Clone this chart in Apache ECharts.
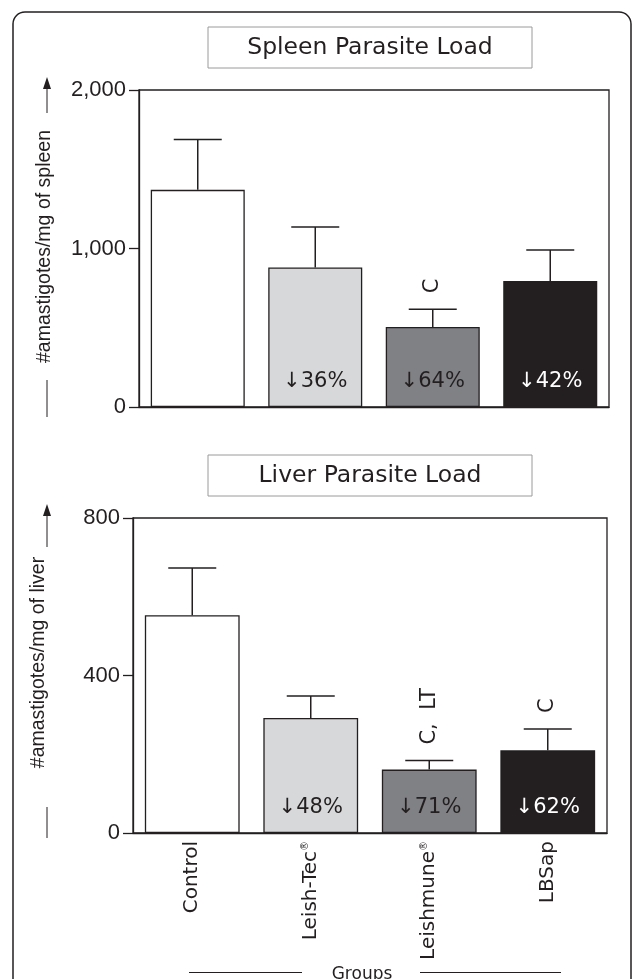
<!DOCTYPE html>
<html><head><meta charset="utf-8">
<script src="https://cdn.jsdelivr.net/npm/echarts@6/dist/echarts.min.js"></script>
<style>html,body{margin:0;padding:0;background:#fff}#c{width:633px;height:979px}</style>
</head><body><div id="c"></div>
<script>
// ---- data ----
const categories = ['Control', 'Leish-Tec', 'Leishmune', 'LBSap'];
const registered = [false, true, true, false];
const barColors = ['#ffffff', '#d7d8da', '#808184', '#231f20'];
const pctColors = ['#231f20', '#231f20', '#231f20', '#ffffff'];

const spleenMean = [1370, 880, 505, 795];
const spleenErr = [318, 255, 112, 195];
const spleenPct = ['', '↓36%', '↓64%', '↓42%'];
const spleenSig = ['', '', 'C', ''];
const spleenTicks = { min: 0, max: 2000, interval: 1000 };

const liverMean = [553, 292, 161, 210];
const liverErr = [120, 56, 23, 54];
const liverPct = ['', '↓48%', '↓71%', '↓62%'];
const liverSig = ['', '', 'C,  LT', 'C'];
const liverTicks = { min: 0, max: 800, interval: 400 };

// ---- chart ----
const INK = '#231f20';
const SANS = 'DejaVu Sans';
const ARIAL = 'Liberation Sans';
const chart = echarts.init(document.getElementById('c'), null, { renderer: 'canvas' });

function errRender(sig) {
  return function (params, api) {
    const i = api.value(0);
    const base = api.coord([i, api.value(1)]);
    const top = api.coord([i, api.value(2)]);
    const half = 24;
    const st = { stroke: INK, lineWidth: 1.5 };
    const children = [
      { type: 'line', shape: { x1: base[0], y1: base[1], x2: top[0], y2: top[1] }, style: st },
      { type: 'line', shape: { x1: top[0] - half, y1: top[1], x2: top[0] + half, y2: top[1] }, style: st }
    ];
    if (sig[i]) {
      children.push({
        type: 'text', x: top[0], y: top[1] - 16, rotation: Math.PI / 2,
        style: { text: sig[i], align: 'left', verticalAlign: 'middle', fontFamily: SANS, fontSize: 21, fill: INK }
      });
    }
    return { type: 'group', children };
  };
}

function barData(mean, pct) {
  return mean.map((v, i) => ({
    value: v,
    itemStyle: { color: barColors[i], borderColor: INK, borderWidth: 1.3 },
    label: { show: !!pct[i], formatter: pct[i], color: pctColors[i] }
  }));
}

function yAx(gi, t, name, fmt, pad) {
  return {
    type: 'value', gridIndex: gi, min: t.min, max: t.max, interval: t.interval,
    axisLine: { show: true, lineStyle: { color: INK, width: 1.3 } },
    axisTick: { show: true, length: 10, lineStyle: { color: INK, width: 1.3 } },
    axisLabel: { margin: 13, color: INK, fontFamily: ARIAL, fontSize: 22, formatter: fmt },
    splitLine: { show: false },
    name: name, nameLocation: 'middle', nameRotate: 90, nameGap: 84,
    nameTextStyle: { color: INK, fontFamily: ARIAL, fontSize: 19.5, padding: pad }
  };
}

const option = {
  backgroundColor: '#ffffff',
  animation: false,
  grid: [
    { left: 139, right: 24, top: 90, height: 317, show: true, borderColor: INK, borderWidth: 1.3, backgroundColor: 'transparent' },
    { left: 133, right: 26, top: 518, height: 315, show: true, borderColor: INK, borderWidth: 1.3, backgroundColor: 'transparent' }
  ],
  xAxis: [
    { type: 'category', gridIndex: 0, data: categories, axisLabel: { show: false }, axisTick: { show: false },
      axisLine: { lineStyle: { color: INK, width: 1.3 } } },
    { type: 'category', gridIndex: 1, data: categories, axisTick: { show: false },
      axisLine: { lineStyle: { color: INK, width: 1.3 } },
      axisLabel: {
        rotate: 90, margin: 8, interval: 0, color: INK,
        formatter: (v, i) => registered[i] ? '{n|' + v + '}{r|®}' : '{n|' + v + '}',
        rich: {
          n: { fontFamily: SANS, fontSize: 20, color: INK },
          r: { fontFamily: SANS, fontSize: 10, color: INK, verticalAlign: 'top' }
        }
      } }
  ],
  yAxis: [
    yAx(0, spleenTicks, '#amastigotes/mg of spleen', v => v.toLocaleString('en-US'), [0, 0, 0, 4]),
    yAx(1, liverTicks, '#amastigotes/mg of liver', v => String(v), [0, 0, 0, 26])
  ],
  series: [
    { type: 'bar', xAxisIndex: 0, yAxisIndex: 0, barWidth: '80%', data: barData(spleenMean, spleenPct),
      label: { position: 'insideBottom', distance: 15, fontFamily: SANS, fontSize: 21 } },
    { type: 'custom', xAxisIndex: 0, yAxisIndex: 0, renderItem: errRender(spleenSig),
      data: spleenMean.map((v, i) => [i, v, v + spleenErr[i]]), z: 3 },
    { type: 'bar', xAxisIndex: 1, yAxisIndex: 1, barWidth: '80%', data: barData(liverMean, liverPct),
      label: { position: 'insideBottom', distance: 15, fontFamily: SANS, fontSize: 21 } },
    { type: 'custom', xAxisIndex: 1, yAxisIndex: 1, renderItem: errRender(liverSig),
      data: liverMean.map((v, i) => [i, v, v + liverErr[i]]), z: 3 }
  ],
  graphic: [
    { type: 'rect', shape: { x: 13, y: 12, width: 618, height: 1000, r: 12 }, style: { fill: 'none', stroke: INK, lineWidth: 1.5 }, silent: true },
    // title boxes
    { type: 'rect', shape: { x: 208, y: 27, width: 324, height: 41 }, style: { fill: '#fff', stroke: '#9a9a9a', lineWidth: 1 } },
    { type: 'text', x: 370, y: 48, style: { text: 'Spleen Parasite Load', align: 'center', verticalAlign: 'middle', fontFamily: SANS, fontSize: 23.5, fill: INK } },
    { type: 'rect', shape: { x: 208, y: 455, width: 324, height: 41 }, style: { fill: '#fff', stroke: '#9a9a9a', lineWidth: 1 } },
    { type: 'text', x: 370, y: 476, style: { text: 'Liver Parasite Load', align: 'center', verticalAlign: 'middle', fontFamily: SANS, fontSize: 23.5, fill: INK } },
    // spleen axis-name arrow & line
    { type: 'line', shape: { x1: 47, y1: 84, x2: 47, y2: 113 }, style: { stroke: INK, lineWidth: 1 } },
    { type: 'polygon', shape: { points: [[47, 77], [43, 89], [51, 89]] }, style: { fill: INK } },
    { type: 'line', shape: { x1: 47, y1: 380, x2: 47, y2: 417 }, style: { stroke: INK, lineWidth: 1 } },
    // liver axis-name arrow & line
    { type: 'line', shape: { x1: 47, y1: 511, x2: 47, y2: 547 }, style: { stroke: INK, lineWidth: 1 } },
    { type: 'polygon', shape: { points: [[47, 504], [43, 516], [51, 516]] }, style: { fill: INK } },
    { type: 'line', shape: { x1: 47, y1: 807, x2: 47, y2: 838 }, style: { stroke: INK, lineWidth: 1 } },
    // Groups
    { type: 'line', shape: { x1: 189, y1: 972.5, x2: 302, y2: 972.5 }, style: { stroke: INK, lineWidth: 1 } },
    { type: 'line', shape: { x1: 420, y1: 972.5, x2: 561, y2: 972.5 }, style: { stroke: INK, lineWidth: 1 } },
    { type: 'text', x: 362, y: 975, style: { text: 'Groups', align: 'center', verticalAlign: 'middle', fontFamily: SANS, fontSize: 17, fill: INK } }
  ]
};
chart.setOption(option);
</script>
</body></html>
